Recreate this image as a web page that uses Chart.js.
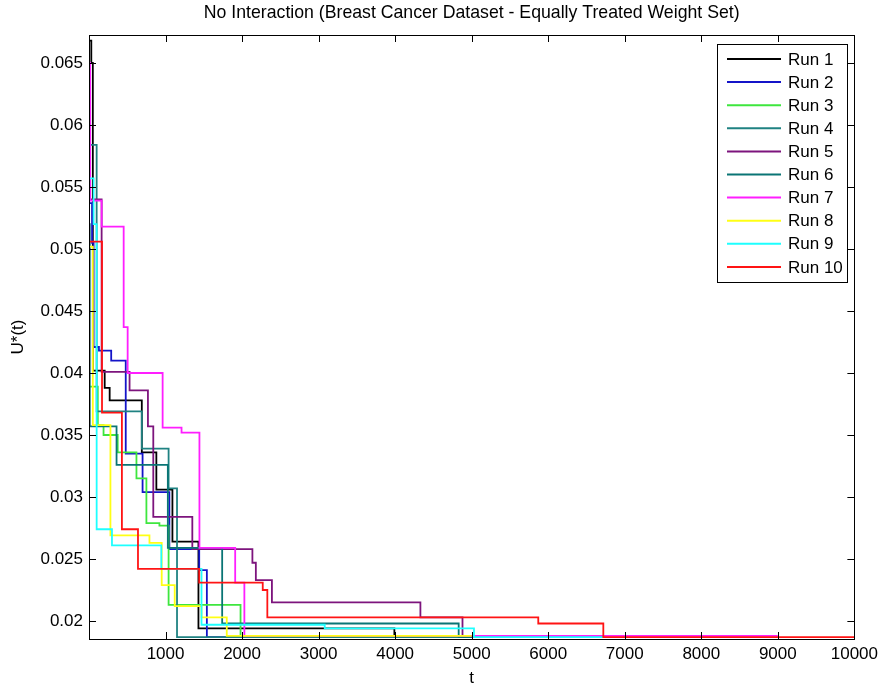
<!DOCTYPE html>
<html>
<head>
<meta charset="utf-8">
<script src="https://cdn.jsdelivr.net/npm/chart.js@4/dist/chart.umd.min.js"></script>
<style>
  html, body { margin: 0; padding: 0; background: #fff; }
</style>
</head>
<body>
<canvas id="chart" width="883" height="689"></canvas>
<script>
// tick values and labels
const xTicks = [1000, 2000, 3000, 4000, 5000, 6000, 7000, 8000, 9000, 10000];
const yTicks = [0.02, 0.025, 0.03, 0.035, 0.04, 0.045, 0.05, 0.055, 0.06, 0.065];
const yTickLabels = ['0.02', '0.025', '0.03', '0.035', '0.04', '0.045', '0.05', '0.055', '0.06', '0.065'];

const chartTitle = 'No Interaction (Breast Cancer Dataset - Equally Treated Weight Set)';
const runNames = ['Run 1', 'Run 2', 'Run 3', 'Run 4', 'Run 5', 'Run 6', 'Run 7', 'Run 8', 'Run 9', 'Run 10'];
const runColors = ['#000000', '#1414c8', '#3ee63e', '#1f8282', '#7d147d', '#0a7575', '#ff1eff', '#ffff14', '#1effff', '#ff1414'];

// [t, U*(t)] pairs, value holds until the next t (stairs)
const run1 = [[0, 0.0668], [30, 0.0650], [50, 0.0402], [205, 0.0388], [270, 0.0378], [690, 0.0336], [880, 0.0306], [1090, 0.0264], [1430, 0.0194], [3990, 0.0187], [5000, 0.0187]];
const run2 = [[0, 0.0537], [40, 0.0505], [60, 0.0421], [130, 0.0418], [290, 0.0410], [480, 0.0335], [700, 0.0304], [1050, 0.0258], [1440, 0.0241], [1540, 0.0187], [6720, 0.0187]];
const run3 = [[0, 0.0389], [115, 0.0358], [190, 0.0350], [375, 0.0336], [620, 0.0315], [750, 0.0279], [920, 0.0277], [1040, 0.0213], [1980, 0.0187], [5000, 0.0187]];
const run4 = [[0, 0.0584], [100, 0.0369], [690, 0.0339], [1040, 0.0307], [1150, 0.0187], [5000, 0.0187]];
const run5 = [[0, 0.0540], [165, 0.0401], [530, 0.0386], [770, 0.0357], [840, 0.0284], [1350, 0.0258], [2135, 0.0247], [2180, 0.0233], [2390, 0.0215], [4330, 0.0203], [4880, 0.0187], [5000, 0.0187]];
const run6 = [[0, 0.0520], [10, 0.0357], [360, 0.0326], [1030, 0.0259], [1740, 0.0198], [4830, 0.0187], [5000, 0.0187]];
const run7 = [[0, 0.0650], [15, 0.0539], [165, 0.0518], [453, 0.0437], [505, 0.0400], [962, 0.0356], [1209, 0.0352], [1443, 0.0259], [1910, 0.0231], [2030, 0.0188], [9000, 0.0188]];
const run8 = [[0, 0.0502], [50, 0.0358], [280, 0.0269], [790, 0.0263], [950, 0.0229], [1120, 0.0212], [1470, 0.0203], [1800, 0.0188], [5000, 0.0188]];
const run9 = [[0, 0.0557], [60, 0.0520], [100, 0.0274], [300, 0.0261], [945, 0.0242], [1470, 0.0197], [3080, 0.0194], [5030, 0.0187], [6720, 0.0187]];
const run10 = [[0, 0.0506], [170, 0.0368], [430, 0.0274], [640, 0.0242], [1440, 0.0231], [2270, 0.0225], [2330, 0.0203], [5870, 0.0198], [6720, 0.0187], [10000, 0.0187]];

const runs = [run1, run2, run3, run4, run5, run6, run7, run8, run9, run10];

const FONT = 'Liberation Sans, Arial, sans-serif';

// title centred over the axes box, not the canvas
const axesTitle = {
    id: 'axesTitle',
    afterDraw(chart) {
        const { ctx, chartArea: a } = chart;
        ctx.save();
        ctx.font = '17.7px ' + FONT;
        ctx.fillStyle = '#000';
        ctx.textAlign = 'center';
        ctx.textBaseline = 'middle';
        ctx.fillText(chartTitle, (a.left + a.right) / 2, 13);
        ctx.restore();
    }
};

// inward ticks on all four sides + box, like matlab
const boxTicks = {
    id: 'boxTicks',
    afterDatasetsDraw(chart) {
        const { ctx, chartArea: a, scales } = chart;
        ctx.save();
        ctx.strokeStyle = '#000';
        ctx.lineWidth = 1;
        ctx.beginPath();
        xTicks.forEach(v => {
            const px = Math.round(scales.x.getPixelForValue(v)) + 0.5;
            ctx.moveTo(px, a.bottom); ctx.lineTo(px, a.bottom - 7);
            ctx.moveTo(px, a.top); ctx.lineTo(px, a.top + 7);
        });
        yTicks.forEach(v => {
            const py = Math.round(scales.y.getPixelForValue(v)) + 0.5;
            ctx.moveTo(a.left, py); ctx.lineTo(a.left + 7, py);
            ctx.moveTo(a.right, py); ctx.lineTo(a.right - 7, py);
        });
        ctx.stroke();
        ctx.strokeRect(Math.round(a.left) + 0.5, Math.round(a.top) + 0.5, Math.round(a.width), Math.round(a.height));
        ctx.restore();
    }
};

// legend box in the top right corner
const boxLegend = {
    id: 'boxLegend',
    afterDraw(chart) {
        const ctx = chart.ctx;
        const left = 717, top = 44, w = 130, h = 238;
        ctx.save();
        ctx.fillStyle = '#fff';
        ctx.fillRect(left, top, w, h);
        ctx.strokeStyle = '#000';
        ctx.lineWidth = 1;
        ctx.strokeRect(left + 0.5, top + 0.5, w, h);
        ctx.font = '17px ' + FONT;
        ctx.textBaseline = 'middle';
        ctx.fillStyle = '#000';
        runNames.forEach((name, i) => {
            const y = top + 15 + i * 23.1;
            ctx.strokeStyle = runColors[i];
            ctx.lineWidth = 2;
            ctx.beginPath();
            ctx.moveTo(727, y);
            ctx.lineTo(781, y);
            ctx.stroke();
            ctx.fillText(name, 788, y + 1);
        });
        ctx.restore();
    }
};

const datasets = runs.map((run, i) => ({
    label: runNames[i],
    data: run.map(p => ({ x: p[0], y: p[1] })),
    borderColor: runColors[i],
    borderWidth: 1.8,
    pointRadius: 0,
    fill: false,
    stepped: true,
    order: runs.length - i   // later runs on top
}));

new Chart(document.getElementById('chart'), {
    type: 'line',
    data: { datasets: datasets },
    options: {
        responsive: false,
        animation: false,
        devicePixelRatio: 1,
        layout: { padding: { left: 0, right: 27, top: 35, bottom: 0 } },
        plugins: {
            legend: { display: false },
            tooltip: { enabled: false },
            title: { display: false }
        },
        scales: {
            x: {
                type: 'linear',
                min: 0,
                max: 10000,
                grid: { display: false, drawTicks: false },
                border: { display: false },
                afterBuildTicks: s => { s.ticks = xTicks.map(v => ({ value: v })); },
                afterFit: s => { s.height = 50; },
                ticks: {
                    color: '#000',
                    padding: 5,
                    maxRotation: 0,
                    font: { family: FONT, size: 17 },
                    callback: v => String(v)
                },
                title: {
                    display: true,
                    text: 't',
                    color: '#000',
                    font: { family: FONT, size: 17 },
                    padding: { top: 0, bottom: 0 }
                }
            },
            y: {
                type: 'linear',
                min: 0.01855,
                max: 0.06726,
                grid: { display: false, drawTicks: false },
                border: { display: false },
                afterBuildTicks: s => { s.ticks = yTicks.map(v => ({ value: v })); },
                afterFit: s => { s.width = 89; },
                ticks: {
                    color: '#000',
                    padding: 6,
                    font: { family: FONT, size: 17 },
                    callback: (v, i) => yTickLabels[i]
                },
                title: {
                    display: true,
                    text: 'U*(t)',
                    color: '#000',
                    font: { family: FONT, size: 17 },
                    padding: { top: 8, bottom: 0 }
                }
            }
        }
    },
    plugins: [boxTicks, boxLegend, axesTitle]
});
</script>
</body>
</html>
